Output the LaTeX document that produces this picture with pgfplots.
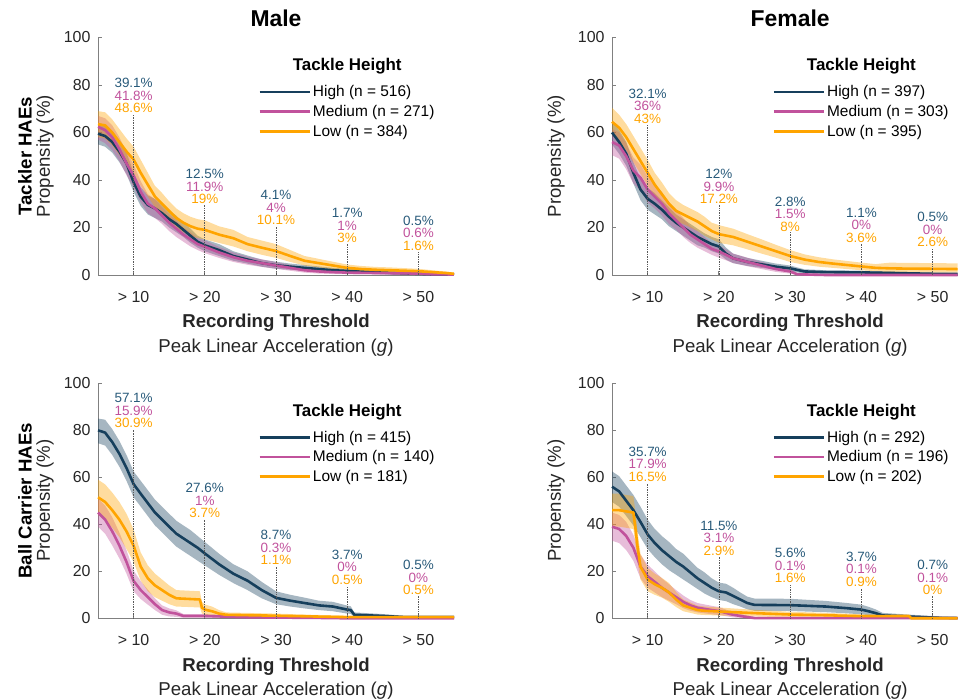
\documentclass[border=0pt]{standalone}
\usepackage{fontspec}
\setmainfont{Liberation Sans}
\usepackage{pgfplots}
\usepackage{pgfplotstable}
\pgfplotsset{compat=1.18}
\usepgfplotslibrary{fillbetween}

\definecolor{chigh}{HTML}{163F5C}
\definecolor{thigh}{HTML}{285A7A}
\definecolor{cmed}{HTML}{C1529C}
\definecolor{clow}{HTML}{FFA400}
\definecolor{axgray}{HTML}{808080}
\definecolor{tickgray}{HTML}{262626}

% columns: threshold, propensity, lower CI, upper CI
\pgfplotstableread{
x y lo hi
5 59.5 55 64
6 58.5 54 63
7 56 51.5 60.5
8 52 47.5 56.5
9 47 42.5 51.5
10 39.1 35 43.2
11 33 29 37
12 29.5 25.5 33.5
13 28 24 32
14 26 22.5 29.5
15 23.5 20 27
16 21.5 18 25
17 19 16 22
18 16.5 13.5 19.5
19 14 11.5 16.5
20 12.5 10 15
22 10.5 8 13
24 8 6 10
26 6.5 4.8 8.2
28 5 3.5 6.5
30 4.1 2.6 5.6
32 3.5 2.2 4.8
34 3 1.8 4.2
36 2.5 1.4 3.6
38 2 1 3
40 1.7 0.8 2.6
42 1.4 0.6 2.2
44 1.1 0.4 1.8
46 0.9 0.3 1.5
48 0.7 0.2 1.2
50 0.5 0.1 0.9
52 0.3 0 0.6
55 0.2 0 0.5
}\MTh
\pgfplotstableread{
x y lo hi
5 62.4 57 67
6 61 55.5 66
7 58 52.5 63
8 53 48 58
9 47 42 52
10 41.8 37 46.5
11 35 30.5 39.5
12 30 26 34
13 28 24 32
14 25 21.5 28.5
15 22 18.5 25.5
16 19.5 16 23
17 17 14 20
18 15 12 18
19 13 10.5 15.5
20 11.9 9.2 14.6
22 9.5 7.2 11.8
24 7.5 5.5 9.5
26 6 4.3 7.7
28 5 3.4 6.6
30 4 2.6 5.4
32 3 1.8 4.2
34 2 1 3
36 1.5 0.6 2.4
38 1.2 0.4 2
40 1 0.3 1.7
45 0.8 0.2 1.4
50 0.6 0.1 1.1
52 0.3 0 0.7
55 0.2 0 0.5
}\MTm
\pgfplotstableread{
x y lo hi
5 63.5 58 69
6 63 57.5 68.5
7 60 54.5 65.5
8 56 50.5 61.5
9 52 46.5 57.5
10 48.6 43 54
11 43 37.5 48.5
12 38 33 43
13 33 28.5 37.5
14 30 25.5 34.5
15 27 23 31
16 24 20 28
17 22 18 26
18 20.5 16.5 24.5
19 19.5 15.5 23.5
20 19 15 23
22 17 13.5 20.5
24 15.5 12 19
26 13 10 16
28 11.5 8.5 14.5
30 10.1 7.2 13
32 8 5.5 10.5
34 6 4 8
36 5 3.2 6.8
38 4 2.4 5.6
40 3 1.6 4.4
42 2.5 1.2 3.8
44 2.2 1 3.4
46 2 0.8 3.2
48 1.8 0.7 2.9
50 1.6 0.6 2.6
52 1.2 0.4 2
54 0.8 0.2 1.4
55 0.5 0 1
}\MTl
\pgfplotstableread{
x y lo hi
5 80 74.5 85
6 79 73.5 84.5
7 75 69.5 80.5
8 70 64.5 75.5
9 64 58.5 69.5
10 57.1 51.5 62.5
11 53 47.5 58.5
12 49 43.5 54.5
13 45 39.5 50.5
14 42 36.5 47.5
15 39 33.5 44.5
16 36 30.5 41.5
17 34 28.5 39.5
18 32 26.5 37.5
19 30 24.5 35
20 27.6 22.5 32.5
22 23 18.5 27.5
24 19 15 23
26 16 12 20
28 12 8.5 15.5
30 8.7 6 11.5
32 7.5 5 10
34 6.5 4.2 8.8
36 5.5 3.5 7.5
38 5 3 7
40 3.7 2 5.4
40.5 3.5 1.9 5.1
41 1.5 0.5 2.5
45 1 0.3 1.8
48 0.5 0 1.1
55 0.5 0 1.1
}\MBh
\pgfplotstableread{
x y lo hi
5 45 39 51
6 42 36 48
7 37 31 43
8 31 25.5 36.5
9 24 19 29
10 15.9 11.5 20.3
11 12 8.2 15.8
12 9 5.8 12.2
13 6 3.5 8.5
14 3.5 1.5 5.5
15 2.5 0.8 4.2
16 2 0.6 3.4
17 1 0.2 1.8
20 1 0.2 1.8
25 0.5 0 1.2
30 0.3 0 0.9
35 0.2 0 0.7
40 0 0 0.4
55 0 0 0.4
}\MBm
\pgfplotstableread{
x y lo hi
5 51.5 44 59
6 49.5 42 57
7 46 38.5 53.5
8 42 34.5 49.5
9 37 29.5 44.5
10 30.9 24 37.8
11 22 16 28
12 17 11.5 22.5
13 14 9 19
14 12 7.5 16.5
15 10 6 14
16 8.5 5 12
19.3 8 4.6 11.5
19.6 4.5 2 7
20 3.7 1.5 5.9
21 3 1 5
22 2 0.5 3.5
23 1.5 0.3 2.5
30 1.1 0.2 2
35 0.8 0.1 1.5
40 0.5 0 1.1
55 0.5 0 1.1
}\MBl
\pgfplotstableread{
x y lo hi
5 60 55 65
6 56 51 61
7 51 46 56
8 43 38.5 47.5
9 36 31.5 40.5
10 32.1 27.5 36.7
11 30 25.5 34.5
12 27.5 23.5 31.5
13 24.5 20.5 28.5
14 22 18.5 25.5
15 20 16.5 23.5
16 18 14.5 21.5
17 16 12.5 19.5
18 14.5 11.5 17.5
19 13 10 16
20 12 9 15
21 9 6.5 11.5
22 7 5 9
24 5.5 3.8 7.2
26 4.5 3 6
28 3.5 2.2 4.8
30 2.8 1.6 4
32 1.5 0.6 2.4
35 1.2 0.4 2
40 1.1 0.4 1.8
45 0.8 0.2 1.4
50 0.5 0.1 0.9
53.5 0.4 0 0.8
}\FTh
\pgfplotstableread{
x y lo hi
5 56 50.5 61.5
6 54.5 49 60
7 50 44.5 55.5
8 44 38.5 49.5
9 41 35.5 46.5
10 36 30.5 41.5
11 33 28 38
12 30 25 35
13 26 21.5 30.5
14 23 19 27
15 20 16 24
16 17 13.5 20.5
17 15 11.5 18.5
18 13 10 16
19 11 8.5 13.5
20 9.9 7.3 12.5
21 8.5 6.2 10.8
22 7 5 9
24 5.5 3.7 7.3
26 4 2.5 5.5
28 2.5 1.3 3.7
30 1.5 0.6 2.4
31 0.3 0 0.8
35 0 0 0.4
53.5 0 0 0.4
}\FTm
\pgfplotstableread{
x y lo hi
5 64.5 59 70.5
6 62 56.5 67.5
7 58 52.5 63.5
8 53 47.5 58.5
9 48 42.5 53.5
10 43 37.5 48.5
11 38 33 43
12 34 29 39
13 30 25.5 34.5
14 27 22.5 31.5
15 25.5 21.5 29.5
16 24 20 28
17 22.5 18.5 26.5
18 20.5 16.5 24.5
19 18.5 15 22
20 17.2 13.5 21
22 16 12.5 19.5
24 14 10.8 17.2
26 12 9 15
28 10 7.3 12.7
30 8 5.5 10.5
32 6.5 4.3 8.7
34 5.5 3.5 7.5
36 4.8 3 6.6
38 4.2 2.5 5.9
40 3.6 2 5.2
42 3 1.6 4.6
44 2.8 1.2 5.2
46 2.7 1.1 5.1
50 2.6 1 5
53.5 2.5 1 4.9
}\FTl
\pgfplotstableread{
x y lo hi
5 56 49.5 62.5
6 54 47.5 60.5
7 50 43.5 56.5
8 46 39.5 52.5
9 41 34.5 47.5
10 35.7 29.5 42
11 32 26 38
12 29 23 35
13 26.5 20.5 32.5
14 24 18.5 29.5
15 22 16.5 27.5
16 19.5 14.5 24.5
17 17 12.5 21.5
18 15 10.5 19.5
19 13 9 17
20 11.5 7.8 15.2
21 11 7.3 14.7
22 9.5 6 13
23 8 5 11
24 6.5 3.8 9.2
25 5.7 3.2 8.4
30 5.6 3.1 8.3
35 5 2.6 7.4
38 4.3 2.1 6.5
40 3.7 1.7 5.8
41 3 1.3 4.9
42 2.2 0.8 3.8
43 1.2 0.3 2.3
47 0.7 0.1 1.5
51 0.2 0 0.8
53.5 0.1 0 0.5
}\FBh
\pgfplotstableread{
x y lo hi
5 39 33 45
6 38 32 44
7 35 29 41
8 30 24.5 35.5
9 22 17 27
10 17.9 13 22.8
11 15.5 11 20
12 13 9 17
13 11 7.5 14.5
14 9 6 12
15 7 4.3 9.7
16 5.5 3.2 7.8
17 4.5 2.5 6.5
18 4 2.1 5.9
19 3.5 1.7 5.3
20 3.1 1.4 4.8
22 1.5 0.4 2.6
24 0.5 0 1.2
25 0.1 0 0.6
53.5 0.1 0 0.6
}\FBm
\pgfplotstableread{
x y lo hi
5 46 39 53
6 46 39 53
7 45.5 38.5 52.5
8 45 38 52
8.3 38 31 45
8.6 30 23.5 36.5
9 22 16.5 27.5
10 16.5 11.5 21.5
11 14.5 10 19
12 13 8.8 17.2
13 11 7 15
14 8 4.8 11.2
15 5.5 3 8
16 4.5 2.3 6.7
17 3.5 1.6 5.4
18 3.2 1.4 5
20 2.9 1.2 4.6
25 2.2 0.8 3.6
30 1.6 0.4 2.8
35 1.3 0.3 2.3
40 0.9 0.1 1.7
46.7 0.9 0.1 1.7
47 0 0 0.4
53.5 0 0 0.4
}\FBl

\newcommand{\band}[3]{%
  \addplot[draw=none, forget plot, name path=#3U] table[x=x, y=hi] {#1};
  \addplot[draw=none, forget plot, name path=#3L] table[x=x, y=lo] {#1};
  \addplot[fill=#2, fill opacity=0.38, draw=none, forget plot] fill between[of=#3U and #3L];
}
\newcommand{\mean}[2]{%
  \addplot[draw=#2, line width=2.6bp, line join=round] table[x=x, y=y] {#1};
}
\newcommand{\annfont}{\fontsize{13.5}{15}\selectfont}
% x, centre of first line, high, medium, low, top of dotted line
\newcommand{\annot}[6]{%
  \addplot[densely dotted, draw=black!65, line width=0.7bp, forget plot] coordinates {(#1,0) (#1,#6)};
  \node[font=\annfont, text=thigh, inner sep=0pt] at (axis cs:#1,#2) {#3\%};
  \node[font=\annfont, text=cmed, inner sep=0pt, yshift=-12.5bp] at (axis cs:#1,#2) {#4\%};
  \node[font=\annfont, text=clow, inner sep=0pt, yshift=-25bp] at (axis cs:#1,#2) {#5\%};
}
\newcommand{\labelsfor}[3]{% title, bold y label, shift of ylabel
  \node[font=\fontsize{18.7}{21}\selectfont\bfseries, text=tickgray] at ([yshift=-48bp]axis cs:30,0) {Recording Threshold};
  \node[font=\fontsize{18.7}{21}\selectfont, text=tickgray] at ([yshift=-72.5bp]axis cs:30,0) {Peak Linear Acceleration (\textit{g})};
  \node[font=\fontsize{18.7}{21}\selectfont, text=tickgray, rotate=90] at ([xshift=#3]axis cs:5,50) {Propensity (\%)};
  \node[font=\fontsize{18.7}{21}\selectfont\bfseries, rotate=90] at ([xshift=-73bp]axis cs:5,50) {#2};
  \node[font=\fontsize{23}{26}\selectfont\bfseries] at ([yshift=19bp]axis cs:30,100) {#1};
  \node[font=\fontsize{17}{20}\selectfont\bfseries] at (axis cs:40,87.8) {Tackle Height};
}

\pgfplotsset{
  panel/.style={
    scale only axis, width=356bp, height=237.5bp,
    xmin=5, xmax=55, ymin=0, ymax=100,
    axis lines=left, axis line style={draw=axgray, line width=0.8bp, -},
    xtick={10,20,30,40,50}, xticklabels={> 10,> 20,> 30,> 40,> 50},
    ytick={0,20,40,60,80,100},
    tick align=inside, major tick length=4bp,
    tick style={draw=axgray, line width=0.8bp},
    /pgf/number format/assume math mode=true,
    ticklabel style={font=\fontsize{16}{18}\selectfont, text=tickgray},
    yticklabel style={xshift=-4bp},
    xticklabel style={yshift=-13bp},
    clip=false,
    legend image code/.code={\draw[##1] (0bp,0bp) -- (50bp,0bp);},
    legend style={at={(axis cs:27.5,80.6)}, anchor=north west, draw=none, fill=none,
      font=\fontsize{15.5}{18}\selectfont, row sep=3bp, inner sep=0pt,
      cells={anchor=west}},
  },
}

\begin{document}
\begin{tikzpicture}

% Male, tackler
\begin{axis}[panel, at={(98bp,425bp)}, anchor=south west]
  \band{\MTh}{chigh}{a}
  \band{\MTm}{cmed}{b}
  \band{\MTl}{clow}{c}
  \mean{\MTh}{chigh}
  \mean{\MTm}{cmed}
  \mean{\MTl}{clow}
  \legend{High (n = 516), Medium (n = 271), Low (n = 384)}
  \annot{10}{80.7}{39.1}{41.8}{48.6}{67.5}
  \annot{20}{42.4}{12.5}{11.9}{19}{29.5}
  \annot{30}{33.7}{4.1}{4}{10.1}{20.7}
  \annot{40}{26}{1.7}{1}{3}{13}
  \annot{50}{22.9}{0.5}{0.6}{1.6}{9.9}
  \labelsfor{Male}{Tackler HAEs}{-53bp}
\end{axis}

% Female, tackler
\begin{axis}[panel, at={(612bp,425bp)}, anchor=south west, width=346bp, xmax=53.56]
  \band{\FTh}{chigh}{a}
  \band{\FTm}{cmed}{b}
  \band{\FTl}{clow}{c}
  \mean{\FTh}{chigh}
  \mean{\FTm}{cmed}
  \mean{\FTl}{clow}
  \legend{High (n = 397), Medium (n = 303), Low (n = 395)}
  \annot{10}{76.4}{32.1}{36}{43}{63.4}
  \annot{20}{42.5}{12}{9.9}{17.2}{29.5}
  \annot{30}{30.9}{2.8}{1.5}{8}{17.9}
  \annot{40}{26.2}{1.1}{0}{3.6}{13.2}
  \annot{50}{24.3}{0.5}{0}{2.6}{11.3}
  \labelsfor{Female}{}{-56bp}
\end{axis}

% Male, ball carrier
\begin{axis}[panel, at={(98bp,81.7bp)}, anchor=south west, height=235bp]
  \band{\MBh}{chigh}{a}
  \band{\MBm}{cmed}{b}
  \band{\MBl}{clow}{c}
  \mean{\MBh}{chigh}
  \mean{\MBm}{cmed}
  \mean{\MBl}{clow}
  \legend{High (n = 415), Medium (n = 140), Low (n = 181)}
  \annot{10}{93.6}{57.1}{15.9}{30.9}{80.3}
  \annot{20}{55.3}{27.6}{1}{3.7}{42}
  \annot{30}{35.5}{8.7}{0.3}{1.1}{22.2}
  \annot{40}{27}{3.7}{0}{0.5}{13.7}
  \annot{50}{22.7}{0.5}{0}{0.5}{9.4}
  \labelsfor{}{Ball Carrier HAEs}{-53bp}
\end{axis}

% Female, ball carrier
\begin{axis}[panel, at={(612bp,81.7bp)}, anchor=south west, height=235bp, width=346bp, xmax=53.56]
  \band{\FBh}{chigh}{a}
  \band{\FBm}{cmed}{b}
  \band{\FBl}{clow}{c}
  \mean{\FBh}{chigh}
  \mean{\FBm}{cmed}
  \mean{\FBl}{clow}
  \legend{High (n = 292), Medium (n = 196), Low (n = 202)}
  \annot{10}{70.9}{35.7}{17.9}{16.5}{57.6}
  \annot{20}{39.4}{11.5}{3.1}{2.9}{26.1}
  \annot{30}{27.7}{5.6}{0.1}{1.6}{14.4}
  \annot{40}{26.2}{3.7}{0.1}{0.9}{12.9}
  \annot{50}{22.7}{0.7}{0.1}{0}{9.4}
  \labelsfor{}{}{-56bp}
\end{axis}

\pgfresetboundingbox
\path[use as bounding box] (0,0) rectangle (958bp,700bp);
\end{tikzpicture}
\end{document}
